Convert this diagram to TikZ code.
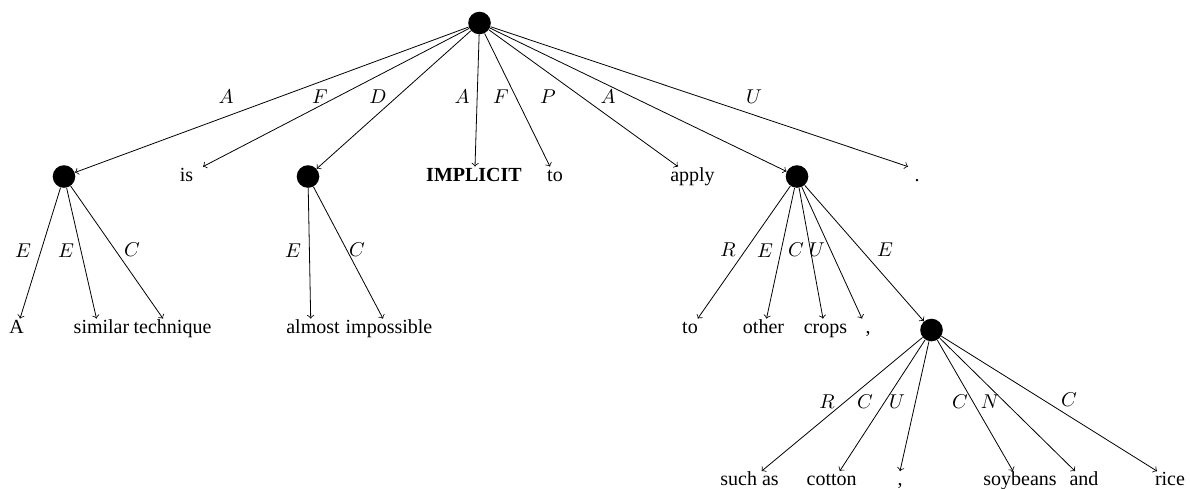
\documentclass[tikz,border=0pt]{standalone}
\usepackage{fontspec}
\setmainfont{Liberation Serif}
\begin{document}
\begin{tikzpicture}[x=0.5pt,y=-0.5pt,
  dot/.style={circle,fill=black,inner sep=0pt,minimum size=11.3pt},
  word/.style={inner sep=0pt,text height=7pt,text depth=2pt,anchor=base},
  lab/.style={inner sep=0pt},
  arr/.style={->}]
\useasboundingbox (0,0) rectangle (1190,488);
% level 0/1
\node[dot] (root) at (479.5,23) {};
\node[dot] (n1) at (64,176.5) {};
\node[word] (is) at (186.5,181) {is};
\node[dot] (n2) at (308,176.5) {};
\node[word] (impl) at (474,181) {\textbf{IMPLICIT}};
\node[word] (to1) at (555,181) {to};
\node[word] (apply) at (692.5,181) {apply};
\node[dot] (n3) at (797,176.5) {};
\node[word] (stop) at (917,181) {.};
% level 2
\node[word] (wA) at (16.5,333) {A};
\node[word] (similar) at (101.5,333) {similar};
\node[word] (technique) at (172.5,333) {technique};
\node[word] (almost) at (313,333) {almost};
\node[word] (impossible) at (389,333) {impossible};
\node[word] (to2) at (690,333) {to};
\node[word] (other) at (763.5,333) {other};
\node[word] (crops) at (825.5,333) {crops};
\node[word] (comma1) at (868,333) {,};
\node[dot] (n4) at (931.5,330) {};
% level 3
\node[word] (suchas) at (749.6,485.5) {such as};
\node[word] (cotton) at (831.7,485.5) {cotton};
\node[word] (comma2) at (900,485.5) {,};
\node[word] (soybeans) at (1020,485.5) {soybeans};
\node[word] (and) at (1084,485.5) {and};
\node[word] (rice) at (1170,485.5) {rice};
% edges from root
\draw[arr] (root) -- (n1);
\draw[arr] (root) -- ([xshift=8.25pt]is.north);
\draw[arr] (root) -- (n2);
\draw[arr] (root) -- ([xshift=0.5pt]impl.north);
\draw[arr] (root) -- ([xshift=-2.5pt]to1.north);
\draw[arr] (root) -- ([xshift=-7.25pt]apply.north);
\draw[arr] (root) -- (n3);
\draw[arr] (root) -- ([xshift=-4.5pt]stop.north);
% edges from n1
\draw[arr] (n1) -- ([xshift=1.75pt]wA.north);
\draw[arr] (n1) -- ([xshift=-2.5pt]similar.north);
\draw[arr] (n1) -- ([xshift=-4.75pt]technique.north);
% edges from n2
\draw[arr] (n2) -- ([xshift=-1.15pt]almost.north);
\draw[arr] (n2) -- ([xshift=-3pt]impossible.north);
% edges from n3
\draw[arr] (n3) -- ([xshift=3.85pt]to2.north);
\draw[arr] (n3) -- ([xshift=1.5pt]other.north);
\draw[arr] (n3) -- ([xshift=-1.25pt]crops.north);
\draw[arr] (n3) -- ([xshift=-3pt]comma1.north);
\draw[arr] (n3) -- (n4);
% edges from n4
\draw[arr] (n4) -- ([xshift=6pt]suchas.north);
\draw[arr] (n4) -- ([xshift=4pt]cotton.north);
\draw[arr] (n4) -- (comma2.north);
\draw[arr] (n4) -- ([xshift=-3.5pt]soybeans.north);
\draw[arr] (n4) -- ([xshift=-4.5pt]and.north);
\draw[arr] (n4) -- ([xshift=-6.5pt]rice.north);
% labels root
\node[lab] (l1) at (226,97) {$A$};
\node[lab] (l2) at (320,97) {$F$};
\node[lab] (l3) at (378,97) {$D$};
\node[lab] (l4) at (462,97) {$A$};
\node[lab] (l5) at (501,97) {$F$};
\node[lab] (l6) at (548,97) {$P$};
\node[lab] (l7) at (608,97) {$A$};
\node[lab] (l8) at (754,97) {$U$};
% labels n1, n2
\node[lab] (l9) at (23,251) {$E$};
\node[lab] (l10) at (66,251) {$E$};
\node[lab] (l11) at (132,250) {$C$};
\node[lab] (l12) at (293,251) {$E$};
\node[lab] (l13) at (357,250) {$C$};
% labels n3
\node[lab] (l14) at (728,250) {$R$};
\node[lab] (l15) at (765,251) {$E$};
\node[lab] (l16) at (796,250) {$C$};
\node[lab] (l17) at (817,250) {$U$};
\node[lab] (l18) at (885,250) {$E$};
% labels n4
\node[lab] (l19) at (827,402) {$R$};
\node[lab] (l20) at (865,402) {$C$};
\node[lab] (l21) at (897,402) {$U$};
\node[lab] (l22) at (960,402) {$C$};
\node[lab] (l23) at (990,402) {$N$};
\node[lab] (l24) at (1069,400) {$C$};
\end{tikzpicture}
\end{document}
